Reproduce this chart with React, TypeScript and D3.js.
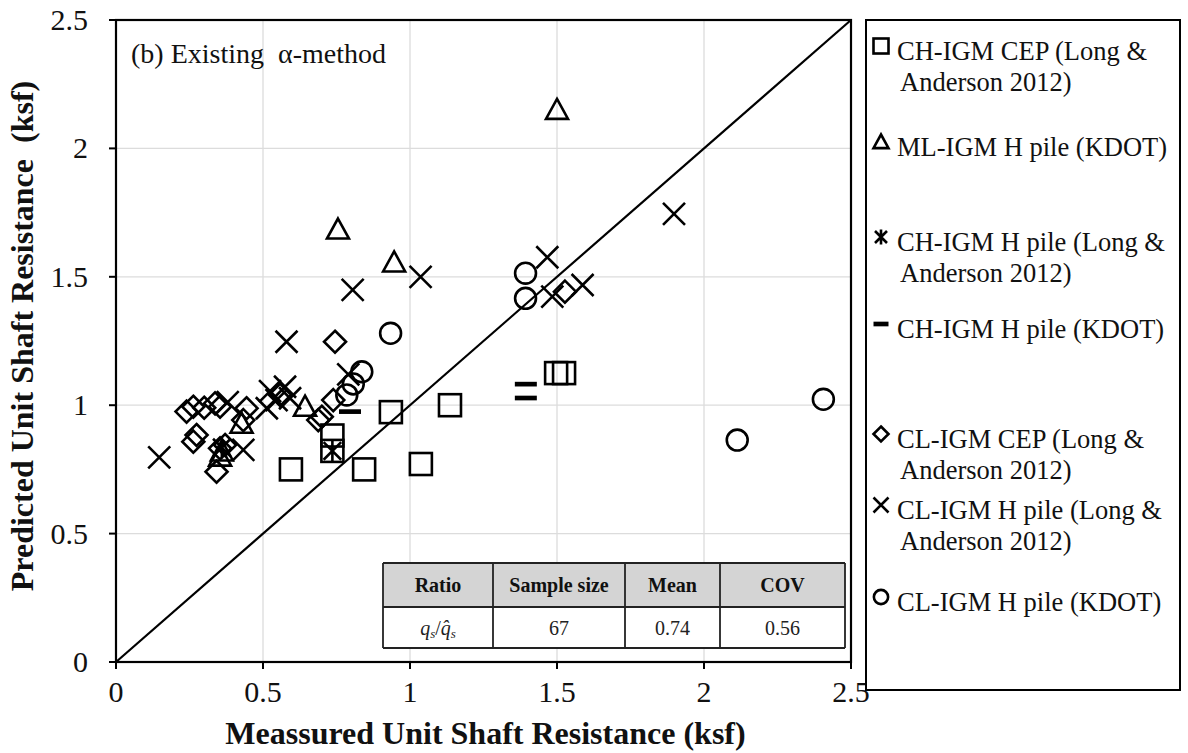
import React from "react";
import * as d3 from "d3";

// ---- Data ----
const chCepX = [0.595, 0.736, 0.736, 0.844, 0.935, 1.037, 1.136, 1.497, 1.524];
const chCepY = [0.75, 0.882, 0.822, 0.75, 0.973, 0.771, 1.0, 1.125, 1.125];

const mlHKdotX = [1.5, 0.755, 0.946, 0.643, 0.427, 0.354, 0.36];
const mlHKdotY = [2.15, 1.684, 1.556, 0.994, 0.928, 0.8, 0.82];

const chHLongX = [0.736, 0.36];
const chHLongY = [0.822, 0.835];

const chHKdotX = [1.394, 1.394, 0.796];
const chHKdotY = [1.082, 1.028, 0.975];

const clCepX = [0.745, 1.527, 0.24, 0.263, 0.3, 0.337, 0.354, 0.444, 0.433, 0.263, 0.274, 0.354, 0.371, 0.342, 0.558, 0.739, 0.688, 0.7];
const clCepY = [1.247, 1.442, 0.975, 0.994, 0.99, 1.007, 0.994, 0.988, 0.942, 0.858, 0.884, 0.832, 0.845, 0.741, 1.04, 1.02, 0.942, 0.955];

const clHLongX = [0.147, 0.38, 0.433, 0.513, 0.524, 0.546, 0.575, 0.592, 0.58, 0.79, 0.805, 1.036, 1.467, 1.484, 1.587, 1.898];
const clHLongY = [0.797, 1.012, 0.826, 0.988, 1.055, 1.02, 1.072, 1.027, 1.247, 1.12, 1.449, 1.5, 1.576, 1.423, 1.468, 1.745];

const clHKdotX = [1.393, 1.393, 2.113, 2.406, 0.934, 0.836, 0.807, 0.785];
const clHKdotY = [1.514, 1.416, 0.864, 1.023, 1.28, 1.13, 1.083, 1.04];

const xTicks = [0, 0.5, 1, 1.5, 2, 2.5];
const yTicks = [0, 0.5, 1, 1.5, 2, 2.5];

const legendLabels = [
  ["CH-IGM CEP (Long &", "Anderson 2012)"],
  ["ML-IGM H pile (KDOT)"],
  ["CH-IGM H pile (Long &", "Anderson 2012)"],
  ["CH-IGM H pile (KDOT)"],
  ["CL-IGM CEP (Long &", "Anderson 2012)"],
  ["CL-IGM H pile (Long &", "Anderson 2012)"],
  ["CL-IGM H pile (KDOT)"],
];
const legendShapes = ["square", "triangle", "asterisk", "dash", "diamond", "cross", "circle"];

const tableHeaders = ["Ratio", "Sample size", "Mean", "COV"];
const tableValues = ["ratio", "67", "0.74", "0.56"];

const FONT = "Liberation Serif, Times New Roman, serif";

type Shape = string;

function Marker({ shape, x, y, s, sw = 2.6 }: { shape: Shape; x: number; y: number; s: number; sw?: number }) {
  const common = { fill: "none", stroke: "#000", strokeWidth: sw };
  switch (shape) {
    case "square":
      return <rect x={x - s} y={y - s} width={2 * s} height={2 * s} {...common} />;
    case "triangle":
      return (
        <path d={`M${x},${y - s}L${x + s},${y + s * 0.82}L${x - s},${y + s * 0.82}Z`} {...common} />
      );
    case "diamond":
      return <path d={`M${x},${y - s}L${x + s},${y}L${x},${y + s}L${x - s},${y}Z`} {...common} />;
    case "cross":
      return (
        <path d={`M${x - s},${y - s}L${x + s},${y + s}M${x - s},${y + s}L${x + s},${y - s}`} {...common} />
      );
    case "asterisk":
      return (
        <path
          d={`M${x - s * 0.8},${y - s * 0.8}L${x + s * 0.8},${y + s * 0.8}M${x - s * 0.8},${y + s * 0.8}L${x + s * 0.8},${y - s * 0.8}M${x},${y - s}L${x},${y + s}`}
          {...common}
        />
      );
    case "dash":
      return <path d={`M${x - s},${y}L${x + s},${y}`} fill="none" stroke="#000" strokeWidth={sw * 1.8} />;
    case "circle":
      return <circle cx={x} cy={y} r={s * 0.95} {...common} />;
  }
  return null;
}

export default function App() {
  const W = 1188;
  const H = 753;
  const left = 116;
  const right = 851;
  const top = 20;
  const bottom = 662;

  const x = d3.scaleLinear().domain([0, 2.5]).range([left, right]);
  const y = d3.scaleLinear().domain([0, 2.5]).range([bottom, top]);
  const fmt = d3.format("~g");

  const series: { shape: Shape; xs: number[]; ys: number[] }[] = [
    { shape: "square", xs: chCepX, ys: chCepY },
    { shape: "triangle", xs: mlHKdotX, ys: mlHKdotY },
    { shape: "asterisk", xs: chHLongX, ys: chHLongY },
    { shape: "dash", xs: chHKdotX, ys: chHKdotY },
    { shape: "diamond", xs: clCepX, ys: clCepY },
    { shape: "cross", xs: clHLongX, ys: clHLongY },
    { shape: "circle", xs: clHKdotX, ys: clHKdotY },
  ];

  // table layout
  const colEdges = [383, 493, 625, 720, 845];
  const rowEdges = [563, 607, 648];

  // legend layout
  const legendY = [52, 148, 243, 330, 440, 511, 603];
  const lineGap = 31;

  return (
    <svg
      width={W}
      height={H}
      style={{ position: "absolute", left: 0, top: 0, background: "#fff" }}
      fontFamily={FONT}
    >
      <rect x={0} y={0} width={W} height={H} fill="#fff" />
      {/* gridlines */}
      {xTicks.slice(1, -1).map((t) => (
        <line key={"gx" + t} x1={x(t)} x2={x(t)} y1={top} y2={bottom} stroke="#dcdcdc" strokeWidth={1.3} />
      ))}
      {yTicks.slice(1, -1).map((t) => (
        <line key={"gy" + t} x1={left} x2={right} y1={y(t)} y2={y(t)} stroke="#dcdcdc" strokeWidth={1.3} />
      ))}

      {/* table */}
      <rect x={colEdges[0]} y={rowEdges[0]} width={colEdges[4] - colEdges[0]} height={rowEdges[1] - rowEdges[0]} fill="#d4d4d4" />
      <rect x={colEdges[0]} y={rowEdges[1]} width={colEdges[4] - colEdges[0]} height={rowEdges[2] - rowEdges[1]} fill="#fff" />
      {rowEdges.map((r) => (
        <line key={"tr" + r} x1={colEdges[0]} x2={colEdges[4]} y1={r} y2={r} stroke="#222" strokeWidth={1.8} />
      ))}
      {colEdges.map((c) => (
        <line key={"tc" + c} x1={c} x2={c} y1={rowEdges[0]} y2={rowEdges[2]} stroke="#222" strokeWidth={1.8} />
      ))}
      {tableHeaders.map((h, i) => (
        <text
          key={"th" + i}
          x={(colEdges[i] + colEdges[i + 1]) / 2}
          y={(rowEdges[0] + rowEdges[1]) / 2 + 7}
          textAnchor="middle"
          fontSize={20}
          fontWeight="bold"
          fill="#111"
        >
          {h}
        </text>
      ))}
      {tableValues.map((v, i) => (
        <text
          key={"tv" + i}
          x={(colEdges[i] + colEdges[i + 1]) / 2}
          y={(rowEdges[1] + rowEdges[2]) / 2 + 7}
          textAnchor="middle"
          fontSize={20}
          fill="#222"
        >
          {v === "ratio" ? (
            <>
              <tspan fontStyle="italic">q</tspan>
              <tspan fontSize={13} dy={3} fontStyle="italic">s</tspan>
              <tspan dy={-3}>/</tspan>
              <tspan fontStyle="italic">{"q\u0302"}</tspan>
              <tspan fontSize={13} dy={3} fontStyle="italic">s</tspan>
            </>
          ) : (
            v
          )}
        </text>
      ))}

      {/* 1:1 line */}
      <line x1={x(0)} y1={y(0)} x2={x(2.5)} y2={y(2.5)} stroke="#000" strokeWidth={2.2} />

      {/* markers */}
      {series.map((sr, si) =>
        sr.xs.map((v, i) => (
          <Marker key={si + "-" + i} shape={sr.shape} x={x(v)} y={y(sr.ys[i])} s={11} />
        ))
      )}

      {/* frame */}
      <rect x={left} y={top} width={right - left} height={bottom - top} fill="none" stroke="#000" strokeWidth={2.2} />

      {/* ticks */}
      {xTicks.map((t) => (
        <g key={"xt" + t}>
          <line x1={x(t)} x2={x(t)} y1={bottom} y2={bottom + 7} stroke="#000" strokeWidth={2} />
          <text x={x(t)} y={bottom + 40} textAnchor="middle" fontSize={30} fill="#111">
            {fmt(t)}
          </text>
        </g>
      ))}
      {yTicks.map((t) => (
        <g key={"yt" + t}>
          <line x1={left - 7} x2={left} y1={y(t)} y2={y(t)} stroke="#000" strokeWidth={2} />
          <text x={left - 28} y={y(t) + 10} textAnchor="end" fontSize={30} fill="#111">
            {fmt(t)}
          </text>
        </g>
      ))}

      {/* axis titles */}
      <text x={(left + right) / 2 + 2} y={744} textAnchor="middle" fontSize={32} fontWeight="bold" fill="#111">
        Meassured Unit Shaft Resistance (ksf)
      </text>
      <text
        transform={`translate(33, 336) rotate(-90)`}
        textAnchor="middle"
        fontSize={32}
        fontWeight="bold"
        fill="#111"
        style={{ whiteSpace: "pre" }}
      >
        Predicted Unit Shaft Resistance  (ksf)
      </text>

      {/* inner label */}
      <text x={131} y={63} fontSize={28} fill="#111" style={{ whiteSpace: "pre" }}>
        (b) Existing  α-method
      </text>

      {/* legend */}
      <rect x={866} y={20} width={314} height={670} fill="#fff" stroke="#000" strokeWidth={2} />
      {legendLabels.map((lines, i) => (
        <g key={"lg" + i}>
          <Marker shape={legendShapes[i]} x={881} y={legendY[i] - 6} s={7.5} />
          {lines.map((ln, j) => (
            <text key={j} x={j === 0 ? 897 : 900} y={legendY[i] + 8 + j * lineGap} fontSize={26.5} fill="#111">
              {ln}
            </text>
          ))}
        </g>
      ))}
    </svg>
  );
}
